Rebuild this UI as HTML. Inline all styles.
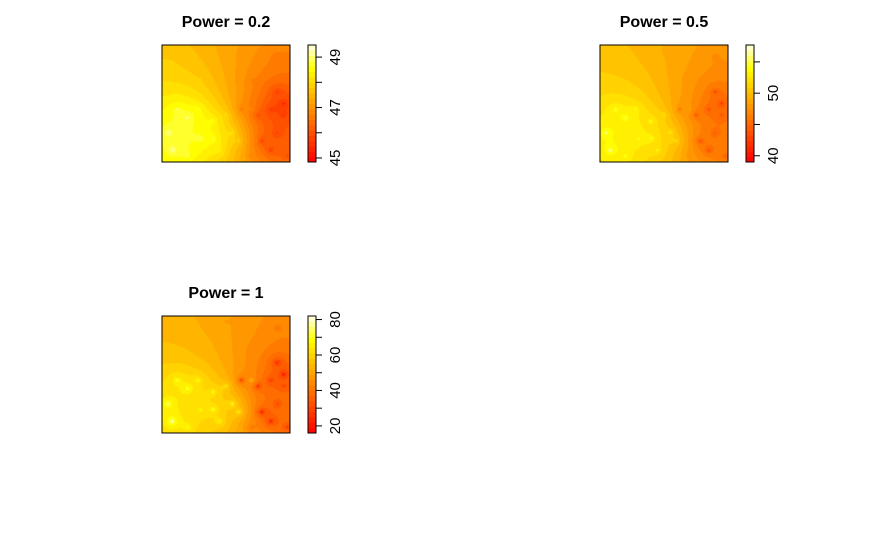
<!DOCTYPE html>
<html><head><meta charset="utf-8"><style>
html,body{margin:0;padding:0;background:#fff;}
#root{position:relative;width:875px;height:540px;overflow:hidden;font-family:"Liberation Sans",sans-serif;}
</style></head><body>
<div id="root">
<svg id="svg" width="875" height="540" style="position:absolute;left:0;top:0"></svg>
</div>
<script>
// sample points: x, y (0..1 from top-left), value
const ptX = [0.05,0.08,0.20,0.12,0.28,0.40,0.40,0.45,0.50,0.55,0.30,0.20,0.60,0.62,0.70,0.75,0.85,0.90,0.95,0.78,0.85,0.98,0.90,0.70,0.10,0.50,0.90,0.30,0.70,0.95];
const ptY = [0.75,0.90,0.62,0.55,0.55,0.65,0.80,0.90,0.60,0.75,0.80,0.95,0.82,0.55,0.55,0.60,0.55,0.40,0.60,0.82,0.90,0.95,0.75,0.95,0.10,0.05,0.10,0.30,0.30,0.50];
const ptV = [80,85,78,75,72,74,76,72,70,75,70,72,72,25,60,20,25,22,30,15,20,28,30,40,55,50,42,55,45,18];
const powers = [0.2, 0.5, 1];
const titles = ["Power = 0.2","Power = 0.5","Power = 1"];
const tickSets = [[45,47,49],[40,50],[20,40,60,80]];
const minorTickSets = [[45,46,47,48,49],[40,45,50,55],[20,30,40,50,60,70,80]];
const zRanges = [[44.84,49.48],[39.0,57.7],[16,82]];

const NS="http://www.w3.org/2000/svg";
const svg=document.getElementById('svg');
function mk(tag,attrs){const e=document.createElementNS(NS,tag);for(const k in attrs)e.setAttribute(k,attrs[k]);return e;}
function hsv(h,s,v){const i=Math.floor(h*6),f=h*6-i,p=v*(1-s),q=v*(1-f*s),t=v*(1-(1-f)*s);let r,g,b;switch(i%6){case 0:r=v;g=t;b=p;break;case 1:r=q;g=v;b=p;break;default:r=v;g=t;b=p;}return [r*255|0,g*255|0,b*255|0];}
function heat(t){
  if(t<0.8) return hsv(t/0.8/6,1,1);
  const s=1-(t-0.8)/0.2*0.9; return hsv(1/6,s,1);
}
const NB=22;
function bandColor(t){let b=Math.min(NB-1,Math.max(0,Math.floor(t*NB)));return heat((b+0.5)/NB);}
const layout=[{bx:162,by:45,cx:308},{bx:600,by:45,cx:746},{bx:162,by:316,cx:308}];
const W=128,H=117;
layout.forEach((L,k)=>{
  const p=powers[k];
  const f=new Float32Array(W*H);let mn=1e9,mx=-1e9;
  for(let j=0;j<H;j++)for(let i=0;i<W;i++){
    const x=(i+0.5)/W,y=(j+0.5)/H;let sw=0,sv=0,hit=null;
    for(let n=0;n<ptV.length;n++){const d=Math.hypot(x-ptX[n],y-ptY[n]);if(d<1e-6){hit=ptV[n];break;}const w=1/Math.pow(d,p);sw+=w;sv+=w*ptV[n];}
    const v=hit!==null?hit:sv/sw;f[j*W+i]=v;if(v<mn)mn=v;if(v>mx)mx=v;}
  const fo=mk('foreignObject',{x:L.bx,y:L.by,width:W,height:H});
  const cv=document.createElement('canvas');cv.width=W;cv.height=H;
  
  
  const ctx=cv.getContext('2d');const im=ctx.createImageData(W,H);
  for(let q=0;q<W*H;q++){const c=bandColor((f[q]-mn)/(mx-mn));im.data[q*4]=c[0];im.data[q*4+1]=c[1];im.data[q*4+2]=c[2];im.data[q*4+3]=255;}
  ctx.putImageData(im,0,0);fo.appendChild(cv);svg.appendChild(fo);
  const g=mk('g',{});svg.appendChild(g);
  const box=mk('rect',{x:L.bx,y:L.by,width:W,height:H,fill:'none',stroke:'#000','stroke-width':1});
  g.appendChild(box);
  const t=mk('text',{x:L.bx+W/2,y:L.by-18,'text-anchor':'middle','font-size':'16','font-weight':'bold','font-family':'Liberation Sans, sans-serif'});
  t.textContent=titles[k];g.appendChild(t);
  const z0=zRanges[k][0],z1=zRanges[k][1];const yz=v=>L.by+H-(v-z0)/(z1-z0)*H;
  for(let b=0;b<NB;b++){const c=heat((b+0.5)/NB);const r=mk('rect',{x:L.cx,y:L.by+H-(b+1)*H/NB,width:8,height:H/NB+0.5,fill:`rgb(${c[0]},${c[1]},${c[2]})`});
    g.appendChild(r);}
  const cb=mk('rect',{x:L.cx,y:L.by,width:8,height:H,fill:'none',stroke:'#000','stroke-width':1});
  g.appendChild(cb);
  minorTickSets[k].forEach(v=>{const y=yz(v);const l=mk('line',{x1:L.cx+8,x2:L.cx+14,y1:y,y2:y,stroke:'#000'});
    g.appendChild(l);});
  tickSets[k].forEach(v=>{const y=yz(v);const tx=mk('text',{x:0,y:0,'font-size':'15','text-anchor':'middle','font-family':'Liberation Sans, sans-serif',transform:`translate(${L.cx+32},${y}) rotate(-90)`});
    tx.textContent=v;g.appendChild(tx);});
});
</script>
</body></html>
